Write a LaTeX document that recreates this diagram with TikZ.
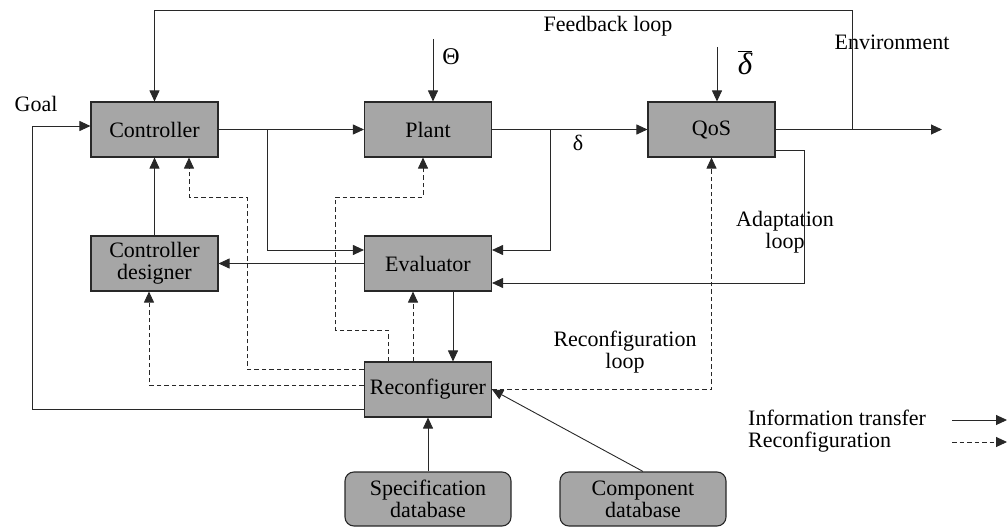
\documentclass[tikz,border=0pt]{standalone}
\usepackage{fontspec}
\setmainfont{Liberation Serif}
\usetikzlibrary{arrows.meta,calc}
\definecolor{boxgray}{RGB}{166,166,166}
\definecolor{linecol}{RGB}{40,40,40}
\begin{document}
\begin{tikzpicture}[x=1pt,y=-1pt,
  box/.style={draw=linecol,fill=boxgray,line width=1.1pt,minimum width=127pt,minimum height=55pt,inner sep=0pt,align=center,font=\fontsize{22}{22}\selectfont},
  db/.style={box,rounded corners=9pt,minimum width=166pt,minimum height=54pt},
  link/.style={draw=linecol,line width=0.9pt,-{Triangle[length=11pt,width=10pt]}},
  rlink/.style={link,dash pattern=on 4.5pt off 3pt},
  lbl/.style={font=\fontsize{22}{22}\selectfont,align=center,inner sep=0pt}]
\useasboundingbox (0,0) rectangle (1008,527);
% blocks
\node[box] (ctrl) at (154.5,129.5) {Controller};
\node[box] (plant) at (428,129.5) {Plant};
\node[box] (qos) at (711.5,129.5) {QoS};
\node[box] (cd) at (154.5,263.5) {Controller\\designer};
\node[box] (ev) at (428,263.5) {Evaluator};
\node[box] (rc) at (428,389.5) {Reconfigurer};
\node[db] (spec) at (428,499) {Specification\\database};
\node[db] (comp) at (643,499) {Component\\database};
% labels
\node[lbl] (goal) at (36,104) {Goal};
\node[lbl] (fbl) at (608,26) {Feedback loop};
\node[lbl] (env) at (892,42) {Environment};
\node[lbl,font=\fontsize{24}{24}\selectfont] (theta) at (451,57) {Θ};
\node[lbl] (dbar) at (745,63) {$\overline{\hbox{\fontsize{31}{31}\selectfont\itshape δ}}$};
\node[lbl,font=\fontsize{22}{22}\selectfont] (delta) at (578,143) {δ};
\node[lbl] (adl) at (785,232) {Adaptation\\loop};
\node[lbl] (rcl) at (625,352) {Reconfiguration\\loop};
% coordinates
\coordinate (fbTR) at (852,10);
\coordinate (envOut) at (942,129.5);
\coordinate (brA) at (267,129.5);
\coordinate (brB) at (550,129.5);
\coordinate (adR) at (804,150);
\coordinate (rpA) at (335,330);
\coordinate (rpB) at (335,197);
\coordinate (rcA) at (247,197);
\coordinate (gl) at (32,126);
\coordinate (thIn) at (433,39);
\coordinate (dbIn) at (717,47);
% connectors
\draw[link] (qos.east) -| (fbTR) -| (ctrl.north);
\draw[link] (qos.east) -- (envOut);
\draw[link] (ctrl.east) -- (plant.west);
\draw[link] (brA) |- ($(ev.west)+(0,-13.5)$);
\draw[link] (plant.east) -- (qos.west);
\draw[link] (brB) |- ($(ev.east)+(0,-13.5)$);
\draw[link] ($(qos.east)+(0,20.5)$) -- (adR) |- ($(ev.east)+(0,19.5)$);
\draw[link] (cd.north) -- (ctrl.south);
\draw[link] (ev.west) -- (cd.east);
\draw[link] ($(ev.south)+(25,0)$) -- ($(rc.north)+(25,0)$);
\draw[rlink] ($(rc.north)+(-15,0)$) -- ($(ev.south)+(-15,0)$);
\draw[rlink] ($(rc.north)+(-40,0)$) |- (rpA) -- (rpB) -| ($(plant.south)+(-5,0)$);
\draw[rlink] ($(rc.west)+(0,-20.5)$) -| (rcA) -| ($(ctrl.south)+(34.5,0)$);
\draw[rlink] ($(rc.west)+(0,-4.5)$) -| ($(cd.south)+(-5.5,0)$);
\draw[link] ($(rc.west)+(0,19.5)$) -| (gl) -- ($(ctrl.west)+(0,-3.5)$);
\draw[rlink] (rc.east) -| (qos.south);
\draw[link] (spec.north) -- (rc.south);
\draw[link] (comp.north) -- (rc.east);
\draw[link] (thIn) -- (thIn |- plant.north);
\draw[link] (dbIn) -- (dbIn |- qos.north);
% legend
\node[lbl,align=left,anchor=west] (lgText) at (748,431) {Information transfer\\Reconfiguration};
\coordinate (lgA) at (952,420);
\coordinate (lgB) at (1007,420);
\coordinate (lgC) at (952,442);
\coordinate (lgD) at (1007,442);
\draw[link] (lgA) -- (lgB);
\draw[rlink] (lgC) -- (lgD);
\end{tikzpicture}
\end{document}
